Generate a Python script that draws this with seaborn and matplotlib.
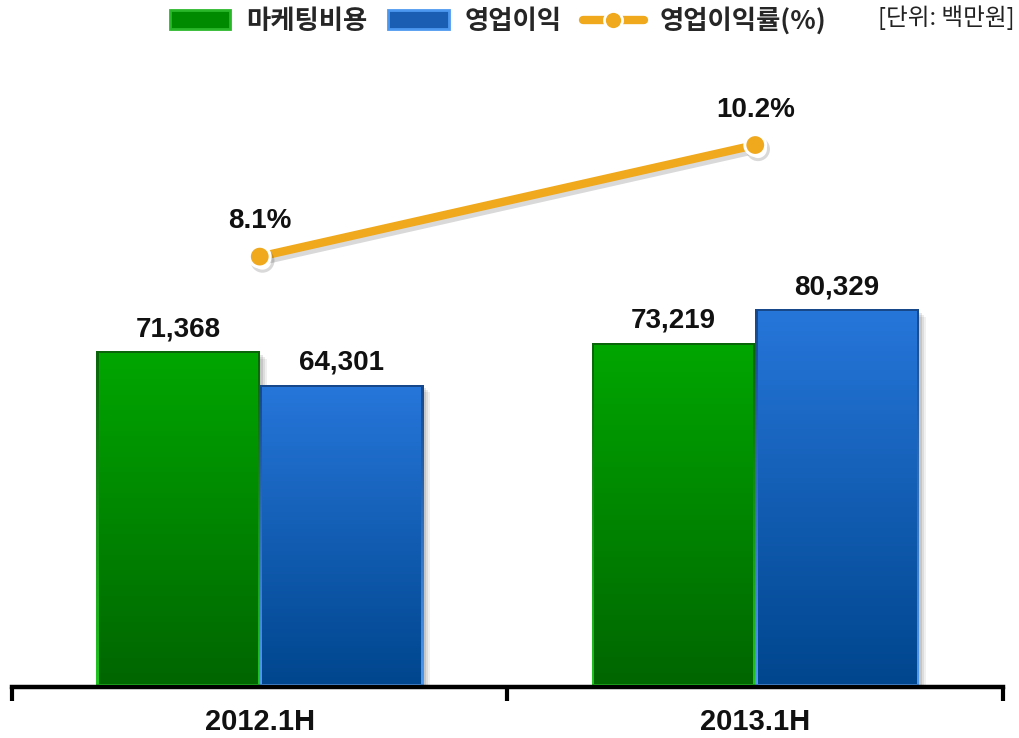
import numpy as np
import pandas as pd
import matplotlib
matplotlib.use('Agg')
import matplotlib.pyplot as plt
import seaborn as sns
from matplotlib.colors import LinearSegmentedColormap
from matplotlib.patches import Rectangle, Patch
from matplotlib.lines import Line2D
import matplotlib.patheffects as pe
from matplotlib.font_manager import FontProperties

# ---------------- data ----------------
categories = ['2012.1H', '2013.1H']
series_names = ['마케팅비용', '영업이익']
marketing_cost = [71368, 73219]
operating_profit = [64301, 80329]
operating_margin = [8.1, 10.2]
line_name = '영업이익률(%)'
unit_label = '[단위: 백만원]'

# ---------------- style ----------------
sns.set_style('white')
plt.rcParams['font.family'] = ['Liberation Sans', 'Noto Sans CJK KR']

W, H = 1020, 738
fig = plt.figure(figsize=(W / 100, H / 100), dpi=100)
ax = fig.add_axes([12 / W, 51 / H, 991 / W, 627 / H])

df = pd.DataFrame({
    'category': categories * 2,
    'series': [series_names[0]] * len(categories) + [series_names[1]] * len(categories),
    'value': marketing_cost + operating_profit,
})
palette = {series_names[0]: '#008C00', series_names[1]: '#1A62BC'}
sns.barplot(data=df, x='category', y='value', hue='series', hue_order=series_names,
            order=categories, palette=palette, width=0.66, gap=0, dodge=True,
            legend=False, ax=ax, saturation=1, errorbar=None)

XLIM = (-0.5, len(categories) - 0.5)
YLIM = (0, 133575)
ax.set_xlim(*XLIM)
ax.set_ylim(*YLIM)

xpx = (XLIM[1] - XLIM[0]) / 991.0
ypx = (YLIM[1] - YLIM[0]) / 627.0

grad_specs = {
    series_names[0]: dict(fill=('#006600', '#00A600'), edge=('#22C422', '#0A640A')),
    series_names[1]: dict(fill=('#00468E', '#2676DA'), edge=('#4E9AF2', '#17488A')),
}
grad = np.linspace(0, 1, 256).reshape(-1, 1)

for container, name in zip(ax.containers, series_names):
    spec = grad_specs[name]
    cm_fill = LinearSegmentedColormap.from_list('f', list(spec['fill']))
    cm_edge = LinearSegmentedColormap.from_list('e', list(spec['edge']))
    for patch in container:
        x0, y0 = patch.get_x(), patch.get_y()
        w, h = patch.get_width(), patch.get_height()
        patch.set_facecolor('none')
        patch.set_edgecolor('none')
        # soft shadow
        for k, a in [(7, 0.06), (5, 0.08), (3, 0.10)]:
            ax.add_patch(Rectangle((x0 + k * xpx, y0), w, h - k * ypx,
                                   facecolor='black', edgecolor='none', alpha=a, zorder=1))
        ax.imshow(grad, extent=[x0, x0 + w, y0, y0 + h], origin='lower', cmap=cm_edge,
                  aspect='auto', zorder=2, interpolation='bilinear')
        b = 2.5
        ax.imshow(grad, extent=[x0 + b * xpx, x0 + w - b * xpx, y0 + b * ypx, y0 + h - b * ypx],
                  origin='lower', cmap=cm_fill, aspect='auto', zorder=3, interpolation='bilinear')
    ax.bar_label(container, fmt='{:,.0f}', padding=7, fontsize=20, fontweight='bold',
                 color='#111111', zorder=5)

ax.set_xlim(*XLIM)
ax.set_ylim(*YLIM)

# ---------------- line on secondary axis ----------------
ax2 = ax.twinx()
line_color = '#F0A81C'
sns.pointplot(x=categories, y=operating_margin, ax=ax2, color=line_color, markers='o',
              linestyles='-', errorbar=None, markersize=15, linewidth=6,
              markeredgecolor='white', markeredgewidth=2.2)
for ln in ax2.lines:
    ln.set_path_effects([pe.SimpleLineShadow(offset=(2, -3), alpha=0.15, shadow_color='black'),
                         pe.Normal()])
    ln.set_solid_capstyle('butt')
ax2.set_ylim(0, 11.8)
ax2.set_xlim(*XLIM)
ln = ax2.lines[0]
for xv, yv in zip(ln.get_xdata(), ln.get_ydata()):
    ax2.annotate(f'{yv:.1f}%', (xv, yv), xytext=(0, 16), textcoords='offset points',
                 ha='center', va='bottom', fontsize=20, fontweight='bold', color='#111111')
ax2.set_yticks([])
ax2.set_ylabel('')
for s in ax2.spines.values():
    s.set_visible(False)

# ---------------- axes styling ----------------
ax.set_ylabel('')
ax.set_xlabel('')
ax.set_yticks([])
ax.grid(False)
for k in ['left', 'right', 'top']:
    ax.spines[k].set_visible(False)
ax.spines['bottom'].set_linewidth(3.2)
ax.spines['bottom'].set_color('black')
ax.spines['bottom'].set_zorder(6)

ax.set_xticks(range(len(categories)))
ax.set_xticklabels(categories, fontsize=21, fontweight='bold', color='#111111')
ax.set_xticks(np.arange(len(categories) + 1) - 0.5, minor=True)
ax.tick_params(axis='x', which='major', length=0, pad=15, bottom=True)
ax.tick_params(axis='x', which='minor', length=10, width=3, color='black',
               direction='out', bottom=True)

# ---------------- legend & unit ----------------
handles = [
    Patch(facecolor='#008A00', edgecolor='#2AB82A', linewidth=2),
    Patch(facecolor='#1A5EB4', edgecolor='#4C98F0', linewidth=2),
    Line2D([0], [0], color=line_color, lw=6, marker='o', markersize=13,
           markerfacecolor=line_color, markeredgecolor='white', markeredgewidth=2),
]
labels = series_names + [line_name]
fig.legend(handles, labels, loc='center', bbox_to_anchor=(498 / W, 1 - 21 / H), ncol=3,
           frameon=False, handlelength=2.3, handleheight=0.7, handletextpad=0.6,
           columnspacing=0.8,
           prop=FontProperties(family=['Noto Sans CJK KR'], weight='bold', size=19))

fig.text(1015 / W, 1 - 18 / H, unit_label, ha='right', va='center', fontsize=17,
         color='#222222', family=['Noto Sans CJK KR'])

fig.savefig('out.png', dpi=100)
